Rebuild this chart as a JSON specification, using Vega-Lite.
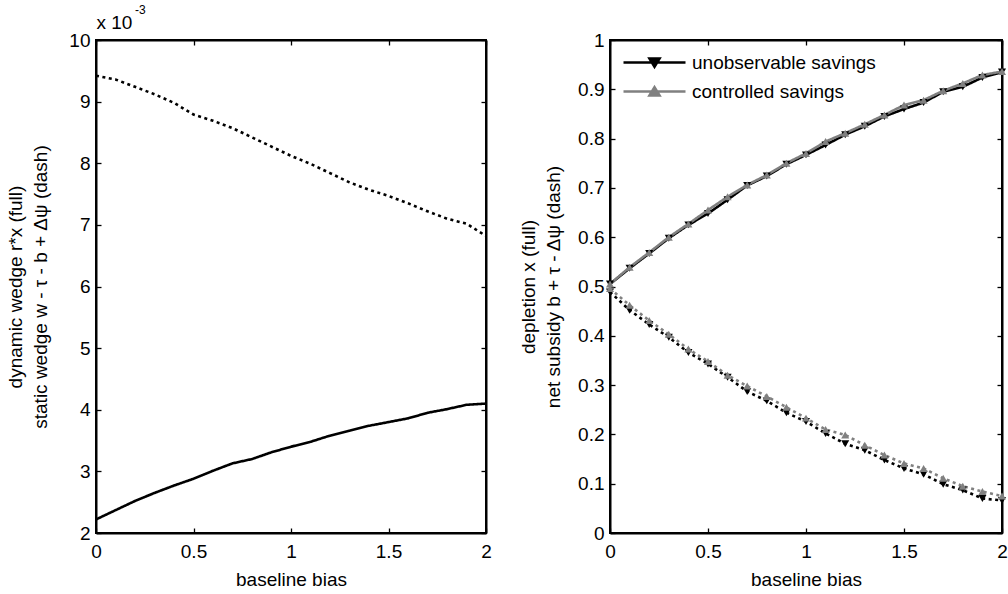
{
  "$schema": "https://vega.github.io/schema/vega-lite/v6.json",
  "padding": {"left": 5, "top": 3, "right": 0, "bottom": 0},
  "config": {
    "font": "Liberation Sans",
    "view": {"stroke": "black", "strokeWidth": 2},
    "axis": {
      "domainColor": "black", "domainWidth": 2, "tickColor": "black", "tickWidth": 1.3,
      "tickSize": -5, "labelFontSize": 19, "labelColor": "black", "titleFontSize": 19,
      "titleFontWeight": "normal", "titleColor": "black", "grid": false, "labelPadding": 11,
      "labelFlush": false, "labelOverlap": false
    },
    "axisX": {"labelPadding": 14, "titlePadding": 9},
    "axisY": {"titleLineHeight": 25, "titlePadding": 16},
    "title": {"fontWeight": "normal", "color": "black"}
  },
  "spacing": 25,
  "resolve": {"scale": {"color": "independent"}, "legend": {"color": "independent"}},
  "datasets": {
    "left": [
      {"bias": 0.0, "curve": "full", "value": 2.22}, {"bias": 0.1, "curve": "full", "value": 2.37},
      {"bias": 0.2, "curve": "full", "value": 2.52}, {"bias": 0.3, "curve": "full", "value": 2.65},
      {"bias": 0.4, "curve": "full", "value": 2.77}, {"bias": 0.5, "curve": "full", "value": 2.88},
      {"bias": 0.6, "curve": "full", "value": 3.01}, {"bias": 0.7, "curve": "full", "value": 3.13},
      {"bias": 0.8, "curve": "full", "value": 3.20}, {"bias": 0.9, "curve": "full", "value": 3.31},
      {"bias": 1.0, "curve": "full", "value": 3.40}, {"bias": 1.1, "curve": "full", "value": 3.48},
      {"bias": 1.2, "curve": "full", "value": 3.58}, {"bias": 1.3, "curve": "full", "value": 3.66},
      {"bias": 1.4, "curve": "full", "value": 3.74}, {"bias": 1.5, "curve": "full", "value": 3.80},
      {"bias": 1.6, "curve": "full", "value": 3.86}, {"bias": 1.7, "curve": "full", "value": 3.95},
      {"bias": 1.8, "curve": "full", "value": 4.01}, {"bias": 1.9, "curve": "full", "value": 4.08},
      {"bias": 2.0, "curve": "full", "value": 4.10},
      {"bias": 0.0, "curve": "dash", "value": 9.42}, {"bias": 0.1, "curve": "dash", "value": 9.36},
      {"bias": 0.2, "curve": "dash", "value": 9.24}, {"bias": 0.3, "curve": "dash", "value": 9.12},
      {"bias": 0.4, "curve": "dash", "value": 8.98}, {"bias": 0.5, "curve": "dash", "value": 8.79},
      {"bias": 0.6, "curve": "dash", "value": 8.69}, {"bias": 0.7, "curve": "dash", "value": 8.57},
      {"bias": 0.8, "curve": "dash", "value": 8.42}, {"bias": 0.9, "curve": "dash", "value": 8.27},
      {"bias": 1.0, "curve": "dash", "value": 8.12}, {"bias": 1.1, "curve": "dash", "value": 7.99},
      {"bias": 1.2, "curve": "dash", "value": 7.84}, {"bias": 1.3, "curve": "dash", "value": 7.69},
      {"bias": 1.4, "curve": "dash", "value": 7.57}, {"bias": 1.5, "curve": "dash", "value": 7.47},
      {"bias": 1.6, "curve": "dash", "value": 7.35}, {"bias": 1.7, "curve": "dash", "value": 7.22},
      {"bias": 1.8, "curve": "dash", "value": 7.10}, {"bias": 1.9, "curve": "dash", "value": 7.02},
      {"bias": 2.0, "curve": "dash", "value": 6.82}
    ],
    "right": [
      {"bias": 0.0, "series": "unobservable savings", "curve": "full", "value": 0.505},
      {"bias": 0.1, "series": "unobservable savings", "curve": "full", "value": 0.537},
      {"bias": 0.2, "series": "unobservable savings", "curve": "full", "value": 0.567},
      {"bias": 0.3, "series": "unobservable savings", "curve": "full", "value": 0.598},
      {"bias": 0.4, "series": "unobservable savings", "curve": "full", "value": 0.625},
      {"bias": 0.5, "series": "unobservable savings", "curve": "full", "value": 0.648},
      {"bias": 0.6, "series": "unobservable savings", "curve": "full", "value": 0.676},
      {"bias": 0.7, "series": "unobservable savings", "curve": "full", "value": 0.705},
      {"bias": 0.8, "series": "unobservable savings", "curve": "full", "value": 0.724},
      {"bias": 0.9, "series": "unobservable savings", "curve": "full", "value": 0.748},
      {"bias": 1.0, "series": "unobservable savings", "curve": "full", "value": 0.767},
      {"bias": 1.1, "series": "unobservable savings", "curve": "full", "value": 0.787},
      {"bias": 1.2, "series": "unobservable savings", "curve": "full", "value": 0.808},
      {"bias": 1.3, "series": "unobservable savings", "curve": "full", "value": 0.825},
      {"bias": 1.4, "series": "unobservable savings", "curve": "full", "value": 0.845},
      {"bias": 1.5, "series": "unobservable savings", "curve": "full", "value": 0.860},
      {"bias": 1.6, "series": "unobservable savings", "curve": "full", "value": 0.873},
      {"bias": 1.7, "series": "unobservable savings", "curve": "full", "value": 0.895},
      {"bias": 1.8, "series": "unobservable savings", "curve": "full", "value": 0.905},
      {"bias": 1.9, "series": "unobservable savings", "curve": "full", "value": 0.924},
      {"bias": 2.0, "series": "unobservable savings", "curve": "full", "value": 0.935},
      {"bias": 0.0, "series": "unobservable savings", "curve": "dash", "value": 0.489},
      {"bias": 0.1, "series": "unobservable savings", "curve": "dash", "value": 0.452},
      {"bias": 0.2, "series": "unobservable savings", "curve": "dash", "value": 0.423},
      {"bias": 0.3, "series": "unobservable savings", "curve": "dash", "value": 0.397},
      {"bias": 0.4, "series": "unobservable savings", "curve": "dash", "value": 0.366},
      {"bias": 0.5, "series": "unobservable savings", "curve": "dash", "value": 0.343},
      {"bias": 0.6, "series": "unobservable savings", "curve": "dash", "value": 0.316},
      {"bias": 0.7, "series": "unobservable savings", "curve": "dash", "value": 0.287},
      {"bias": 0.8, "series": "unobservable savings", "curve": "dash", "value": 0.268},
      {"bias": 0.9, "series": "unobservable savings", "curve": "dash", "value": 0.244},
      {"bias": 1.0, "series": "unobservable savings", "curve": "dash", "value": 0.226},
      {"bias": 1.1, "series": "unobservable savings", "curve": "dash", "value": 0.202},
      {"bias": 1.2, "series": "unobservable savings", "curve": "dash", "value": 0.181},
      {"bias": 1.3, "series": "unobservable savings", "curve": "dash", "value": 0.168},
      {"bias": 1.4, "series": "unobservable savings", "curve": "dash", "value": 0.148},
      {"bias": 1.5, "series": "unobservable savings", "curve": "dash", "value": 0.131},
      {"bias": 1.6, "series": "unobservable savings", "curve": "dash", "value": 0.119},
      {"bias": 1.7, "series": "unobservable savings", "curve": "dash", "value": 0.099},
      {"bias": 1.8, "series": "unobservable savings", "curve": "dash", "value": 0.087},
      {"bias": 1.9, "series": "unobservable savings", "curve": "dash", "value": 0.070},
      {"bias": 2.0, "series": "unobservable savings", "curve": "dash", "value": 0.066},
      {"bias": 0.0, "series": "controlled savings", "curve": "full", "value": 0.505},
      {"bias": 0.1, "series": "controlled savings", "curve": "full", "value": 0.539},
      {"bias": 0.2, "series": "controlled savings", "curve": "full", "value": 0.569},
      {"bias": 0.3, "series": "controlled savings", "curve": "full", "value": 0.600},
      {"bias": 0.4, "series": "controlled savings", "curve": "full", "value": 0.627},
      {"bias": 0.5, "series": "controlled savings", "curve": "full", "value": 0.655},
      {"bias": 0.6, "series": "controlled savings", "curve": "full", "value": 0.682},
      {"bias": 0.7, "series": "controlled savings", "curve": "full", "value": 0.706},
      {"bias": 0.8, "series": "controlled savings", "curve": "full", "value": 0.726},
      {"bias": 0.9, "series": "controlled savings", "curve": "full", "value": 0.750},
      {"bias": 1.0, "series": "controlled savings", "curve": "full", "value": 0.770},
      {"bias": 1.1, "series": "controlled savings", "curve": "full", "value": 0.794},
      {"bias": 1.2, "series": "controlled savings", "curve": "full", "value": 0.811},
      {"bias": 1.3, "series": "controlled savings", "curve": "full", "value": 0.829},
      {"bias": 1.4, "series": "controlled savings", "curve": "full", "value": 0.848},
      {"bias": 1.5, "series": "controlled savings", "curve": "full", "value": 0.868},
      {"bias": 1.6, "series": "controlled savings", "curve": "full", "value": 0.878},
      {"bias": 1.7, "series": "controlled savings", "curve": "full", "value": 0.897},
      {"bias": 1.8, "series": "controlled savings", "curve": "full", "value": 0.912},
      {"bias": 1.9, "series": "controlled savings", "curve": "full", "value": 0.929},
      {"bias": 2.0, "series": "controlled savings", "curve": "full", "value": 0.936},
      {"bias": 0.0, "series": "controlled savings", "curve": "dash", "value": 0.496},
      {"bias": 0.1, "series": "controlled savings", "curve": "dash", "value": 0.462},
      {"bias": 0.2, "series": "controlled savings", "curve": "dash", "value": 0.431},
      {"bias": 0.3, "series": "controlled savings", "curve": "dash", "value": 0.403},
      {"bias": 0.4, "series": "controlled savings", "curve": "dash", "value": 0.373},
      {"bias": 0.5, "series": "controlled savings", "curve": "dash", "value": 0.348},
      {"bias": 0.6, "series": "controlled savings", "curve": "dash", "value": 0.320},
      {"bias": 0.7, "series": "controlled savings", "curve": "dash", "value": 0.298},
      {"bias": 0.8, "series": "controlled savings", "curve": "dash", "value": 0.277},
      {"bias": 0.9, "series": "controlled savings", "curve": "dash", "value": 0.255},
      {"bias": 1.0, "series": "controlled savings", "curve": "dash", "value": 0.233},
      {"bias": 1.1, "series": "controlled savings", "curve": "dash", "value": 0.210},
      {"bias": 1.2, "series": "controlled savings", "curve": "dash", "value": 0.199},
      {"bias": 1.3, "series": "controlled savings", "curve": "dash", "value": 0.178},
      {"bias": 1.4, "series": "controlled savings", "curve": "dash", "value": 0.158},
      {"bias": 1.5, "series": "controlled savings", "curve": "dash", "value": 0.141},
      {"bias": 1.6, "series": "controlled savings", "curve": "dash", "value": 0.131},
      {"bias": 1.7, "series": "controlled savings", "curve": "dash", "value": 0.111},
      {"bias": 1.8, "series": "controlled savings", "curve": "dash", "value": 0.095},
      {"bias": 1.9, "series": "controlled savings", "curve": "dash", "value": 0.084},
      {"bias": 2.0, "series": "controlled savings", "curve": "dash", "value": 0.075}
    ]
  },
  "hconcat": [
    {
      "width": 390,
      "height": 493,
      "data": {"name": "left"},
      "title": {"text": "-3", "anchor": "start", "frame": "group", "fontSize": 12, "dx": 39, "offset": -13, "baseline": "alphabetic"},
      "layer": [
        {
          "mark": {"type": "line", "color": "black", "strokeWidth": 2.6},
          "encoding": {
            "x": {"field": "bias", "type": "quantitative", "scale": {"domain": [0, 2], "nice": false},
                  "axis": {"orient": "bottom", "title": "baseline bias", "values": [0, 0.5, 1, 1.5, 2], "format": "~r"}},
            "y": {"field": "value", "type": "quantitative", "scale": {"domain": [2, 10], "nice": false, "zero": false},
                  "axis": {"orient": "left", "values": [2, 3, 4, 5, 6, 7, 8, 9, 10], "format": "~r", "titlePadding": 18,
                           "title": ["dynamic wedge r*x  (full)", "static wedge w - τ - b + Δψ (dash)"]}},
            "strokeDash": {"field": "curve", "type": "nominal",
                           "scale": {"domain": ["full", "dash"], "range": [[1, 0], [3, 3.5]]}, "legend": null}
          }
        },
        {
          "mark": {"type": "point", "opacity": 0},
          "encoding": {
            "x": {"field": "bias", "type": "quantitative",
                  "axis": {"orient": "top", "labels": false, "values": [0, 0.5, 1, 1.5, 2], "title": "x 10",
                           "titleAnchor": "start", "titleAlign": "left", "titleBaseline": "alphabetic", "titlePadding": 11}},
            "y": {"field": "value", "type": "quantitative",
                  "axis": {"orient": "right", "labels": false, "values": [2, 3, 4, 5, 6, 7, 8, 9, 10], "title": null}}
          }
        }
      ],
      "resolve": {"axis": {"x": "independent", "y": "independent"}}
    },
    {
      "width": 392,
      "height": 493,
      "data": {"name": "right"},
      "layer": [
        {
          "mark": {"type": "line", "strokeWidth": 2.6},
          "encoding": {
            "x": {"field": "bias", "type": "quantitative", "scale": {"domain": [0, 2], "nice": false},
                  "axis": {"orient": "bottom", "title": "baseline bias", "values": [0, 0.5, 1, 1.5, 2], "format": "~r"}},
            "y": {"field": "value", "type": "quantitative", "scale": {"domain": [0, 1], "nice": false},
                  "axis": {"orient": "left", "values": [0, 0.1, 0.2, 0.3, 0.4, 0.5, 0.6, 0.7, 0.8, 0.9, 1], "format": "~r", "titlePadding": 14,
                           "title": ["depletion x (full)", "net subsidy b + τ - Δψ (dash)"]}},
            "color": {"field": "series", "type": "nominal",
                      "scale": {"domain": ["unobservable savings", "controlled savings"], "range": ["#000000", "#808080"]},
                      "legend": {
                        "title": null, "orient": "none", "legendX": 33, "legendY": 11, "padding": 0,
                        "labelFontSize": 19, "labelColor": "black", "labelOffset": 26, "labelLimit": 400,
                        "symbolSize": 400, "symbolStrokeWidth": 2.6, "rowPadding": 7,
                        "encode": {"symbols": {"update": {
                          "shape": {"signal": "datum.value === 'unobservable savings' ? 'M-3.1,0H3.1M-0.5,-0.4H0.5L0,0.42Z' : 'M-3.1,0H3.1M-0.5,0.4H0.5L0,-0.42Z'"},
                          "fill": {"signal": "datum.value === 'unobservable savings' ? '#000000' : '#808080'"},
                          "stroke": {"signal": "datum.value === 'unobservable savings' ? '#000000' : '#808080'"},
                          "opacity": {"value": 1}
                        }}}
                      }},
            "strokeDash": {"field": "curve", "type": "nominal",
                           "scale": {"domain": ["full", "dash"], "range": [[1, 0], [2.5, 3.5]]}, "legend": null}
          }
        },
        {
          "transform": [{"filter": "datum.series === 'unobservable savings'"}],
          "mark": {"type": "point", "filled": true, "opacity": 1, "size": 65, "shape": "triangle-down", "color": "#000000"},
          "encoding": {
            "x": {"field": "bias", "type": "quantitative", "axis": null},
            "y": {"field": "value", "type": "quantitative", "axis": null}
          }
        },
        {
          "transform": [{"filter": "datum.series === 'controlled savings'"}],
          "mark": {"type": "point", "filled": true, "opacity": 1, "size": 65, "shape": "triangle-up", "color": "#808080"},
          "encoding": {
            "x": {"field": "bias", "type": "quantitative", "axis": null},
            "y": {"field": "value", "type": "quantitative", "axis": null}
          }
        },
        {
          "mark": {"type": "point", "opacity": 0},
          "encoding": {
            "x": {"field": "bias", "type": "quantitative",
                  "axis": {"orient": "top", "labels": false, "values": [0, 0.5, 1, 1.5, 2], "title": null}},
            "y": {"field": "value", "type": "quantitative",
                  "axis": {"orient": "right", "labels": false, "values": [0, 0.1, 0.2, 0.3, 0.4, 0.5, 0.6, 0.7, 0.8, 0.9, 1], "title": null}}
          }
        }
      ],
      "resolve": {"axis": {"x": "independent", "y": "independent"}}
    }
  ]
}
